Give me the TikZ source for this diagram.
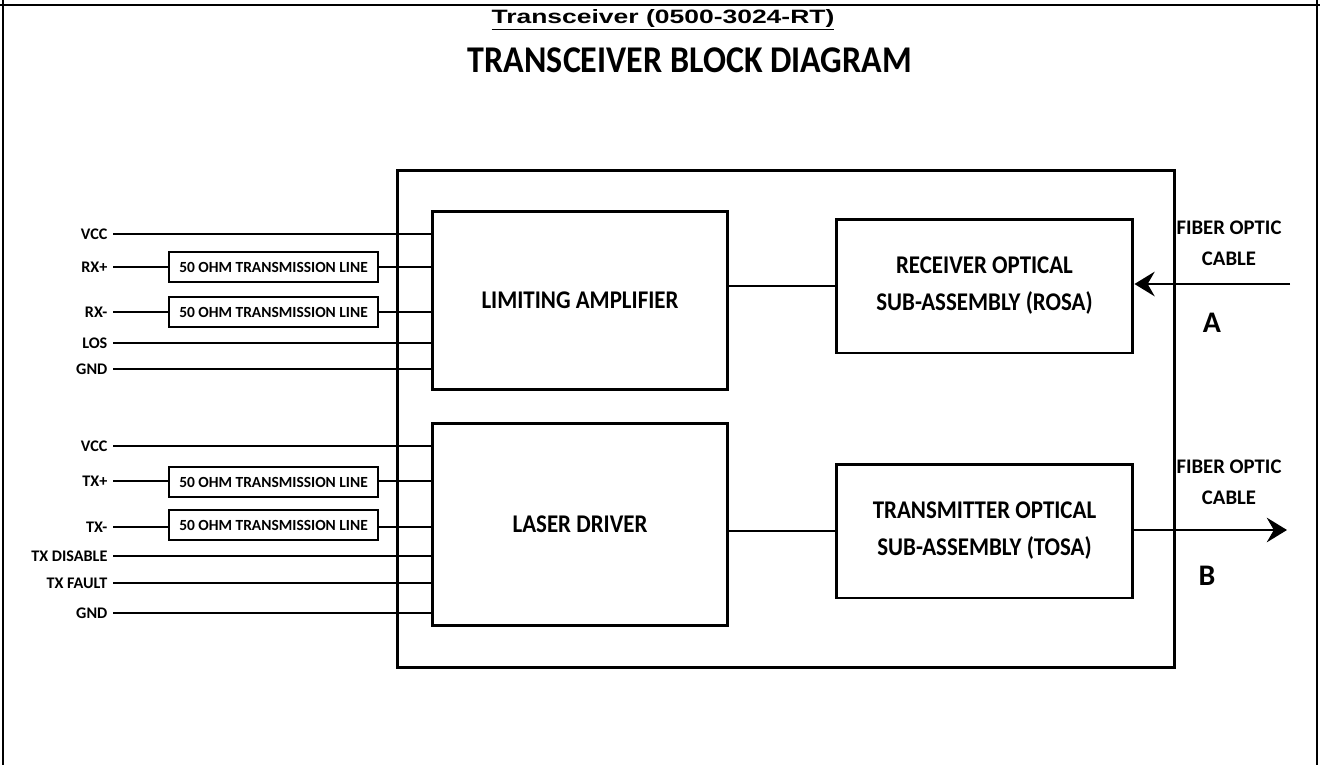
\documentclass[tikz,border=0pt]{standalone}
\usepackage{fontspec}
\setmainfont{Carlito}
\newfontfamily\narrowfont{Carlito}[FakeStretch=0.9]
\newfontfamily\arialfont{Liberation Sans}
\usetikzlibrary{arrows.meta}
\tikzset{%
    block/.style={%
        draw, line width=1.7pt, align=center,
        font=\narrowfont\bfseries\fontsize{14.5}{21}\selectfont},
    tline/.style={%
        draw, line width=1.2pt, minimum width=4.18cm, minimum height=0.6cm,
        inner sep=0pt, font=\bfseries\fontsize{8.8}{10}\selectfont},
    pinlabel/.style={anchor=east, inner sep=3pt,
        font=\bfseries\fontsize{9.2}{10}\selectfont},
    wire/.style={line width=1.4pt},
    fiber/.style={line width=1.4pt,
        -{Stealth[length=11.5pt,width=14pt,inset=4pt]}},
    cable/.style={align=center, font=\bfseries\fontsize{11.8}{17.6}\selectfont},
    port/.style={font=\bfseries\fontsize{17}{18}\selectfont}
}

\begin{document}
\begin{tikzpicture}[x=0.02cm,y=-0.02cm]
    \useasboundingbox (0,0) rectangle (1320,765);
    \draw[line width=1pt] (0,5)--(1320,5);
    \draw[line width=1pt] (3,0)--(3,765);
    \draw[line width=1pt] (1317,0)--(1317,765);
%-----------------------------------------------
    \node[anchor=base, inner sep=0pt] (title) at (663,23) {\arialfont\bfseries\fontsize{11}{13}\selectfont
        \scalebox{1.37}[1]{\underline{Transceiver (0500-3024-RT)}}};
    \node[anchor=base, inner sep=0pt] (heading) at (690,72) {\narrowfont\bfseries\fontsize{21.5}{24}\selectfont TRANSCEIVER BLOCK DIAGRAM};
%-----------------------------------------------
    \node[draw, line width=1.7pt, minimum width=15.56cm, minimum height=9.96cm] (module) at (786,419) {};
    \node[block, minimum width=5.92cm, minimum height=3.58cm] (lim) at (580,300.5) {LIMITING AMPLIFIER};
    \node[block, minimum width=5.92cm, minimum height=4.06cm] (drv) at (580,524.5) {LASER DRIVER};
    \node[block, minimum width=5.94cm, minimum height=2.68cm] (rosa) at (984.5,286) {RECEIVER OPTICAL\\SUB-ASSEMBLY (ROSA)};
    \node[block, minimum width=5.94cm, minimum height=2.68cm] (tosa) at (984.5,531) {TRANSMITTER OPTICAL\\SUB-ASSEMBLY (TOSA)};
%-----------------------------------------------
    \draw[wire] (lim.east |- rosa.west)--(rosa.west);
    \draw[wire] (drv.east |- tosa.west)--(tosa.west);
%-----------------------------------------------
    \coordinate (fibA) at (1290,284);
    \coordinate (fibB) at (1287,530);
    \draw[fiber] (fibA)--(rosa.east |- fibA);
    \draw[fiber] (tosa.east |- fibB)--(fibB);
    \node[cable] (cableA) at (1229,243) {FIBER OPTIC\\CABLE};
    \node[cable] (cableB) at (1229,482) {FIBER OPTIC\\CABLE};
    \node[port] (portA) at (1212,323) {A};
    \node[port] (portB) at (1207,576) {B};
%-----------------------------------------------
    \node[pinlabel] (rxvcc) at (113,234) {VCC};
    \node[pinlabel] (rxp) at (113,267) {RX+};
    \node[pinlabel] (rxn) at (113,312) {RX-};
    \node[pinlabel] (los) at (113,343) {LOS};
    \node[pinlabel] (rxgnd) at (113,369) {GND};
    \node[tline] (rxpline) at (273.5,267) {50 OHM TRANSMISSION LINE};
    \node[tline] (rxnline) at (273.5,312) {50 OHM TRANSMISSION LINE};
    \draw[wire] (rxvcc.east)--(lim.west |- rxvcc.east);
    \draw[wire] (rxp.east)--(rxpline.west);
    \draw[wire] (rxpline.east)--(lim.west |- rxpline.east);
    \draw[wire] (rxn.east)--(rxnline.west);
    \draw[wire] (rxnline.east)--(lim.west |- rxnline.east);
    \draw[wire] (los.east)--(lim.west |- los.east);
    \draw[wire] (rxgnd.east)--(lim.west |- rxgnd.east);
%-----------------------------------------------
    \node[pinlabel] (txvcc) at (113,446) {VCC};
    \node[pinlabel] (txp) at (113,481) {TX+};
    \node[pinlabel] (txn) at (113,527) {TX-};
    \node[pinlabel] (txdis) at (113,556) {TX DISABLE};
    \node[pinlabel] (txflt) at (113,583) {TX FAULT};
    \node[pinlabel] (txgnd) at (113,613) {GND};
    \node[tline] (txpline) at (273.5,482) {50 OHM TRANSMISSION LINE};
    \node[tline] (txnline) at (273.5,525) {50 OHM TRANSMISSION LINE};
    \draw[wire] (txvcc.east)--(drv.west |- txvcc.east);
    \draw[wire] (txp.east)--(txp.east -| txpline.west);
    \draw[wire] (txp.east -| txpline.east)--(txp.east -| drv.west);
    \draw[wire] (txn.east)--(txn.east -| txnline.west);
    \draw[wire] (txn.east -| txnline.east)--(txn.east -| drv.west);
    \draw[wire] (txdis.east)--(drv.west |- txdis.east);
    \draw[wire] (txflt.east)--(drv.west |- txflt.east);
    \draw[wire] (txgnd.east)--(drv.west |- txgnd.east);
\end{tikzpicture}
\end{document}
